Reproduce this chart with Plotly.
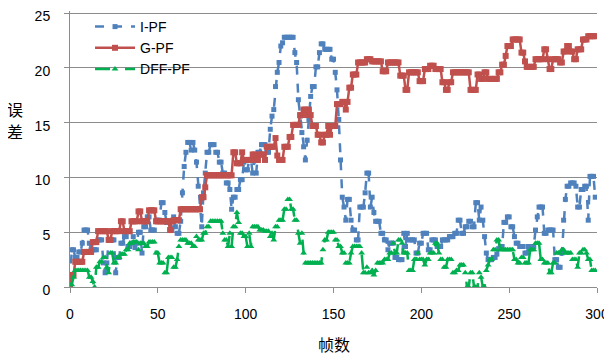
import plotly.graph_objects as go

frames = list(range(300))

i_pf = [
    0.5, 3.4, 3.4, 2.7, 2.7, 3.2, 3.2, 4.0, 5.2, 5.2,
    5.2, 4.0, 3.4, 3.4, 3.4, 3.4, 4.3, 4.3, 4.3, 2.2,
    1.3, 2.2, 4.3, 4.3, 4.3, 4.3, 1.3, 2.7, 2.7, 4.0,
    4.0, 4.6, 4.6, 3.7, 3.7, 4.0, 4.6, 3.6, 4.0, 5.0,
    5.0, 3.1, 5.5, 5.5, 6.4, 6.4, 5.2, 5.2, 5.2, 6.1,
    6.1, 6.1, 7.7, 7.7, 6.8, 5.9, 5.9, 5.2, 5.2, 6.4,
    5.5, 4.9, 4.9, 6.0, 8.6, 11.0, 12.3, 13.2, 13.2, 12.5,
    13.2, 12.5, 11.4, 9.2, 7.1, 5.5, 8.6, 10.4, 12.3, 12.3,
    13.0, 13.0, 13.0, 12.3, 12.3, 11.4, 11.4, 10.4, 10.4, 9.5,
    9.5, 8.9, 7.1, 8.2, 8.2, 8.9, 8.9, 9.8, 9.8, 11.4,
    10.7, 10.7, 11.6, 11.6, 10.4, 11.6, 10.4, 12.3, 12.3, 13.0,
    13.0, 13.0, 12.3, 12.3, 14.4, 15.6, 16.2, 18.3, 19.6, 20.5,
    22.0, 22.3, 22.8, 22.8, 22.8, 22.8, 22.8, 22.8, 21.4, 20.5,
    17.1, 15.6, 14.1, 12.8, 11.6, 13.4, 15.3, 17.4, 18.3, 18.3,
    20.1, 20.1, 21.4, 22.2, 22.2, 21.7, 21.7, 21.7, 21.7, 20.8,
    20.8, 19.6, 18.0, 15.3, 11.6, 8.2, 7.3, 6.1, 8.0, 8.0,
    6.1, 5.2, 5.2, 4.3, 4.3, 7.3, 7.3, 7.3, 8.6, 10.4,
    10.4, 7.3, 8.2, 6.8, 6.0, 6.0, 6.0, 4.9, 4.9, 4.3,
    4.3, 3.4, 4.0, 4.0, 4.0, 2.7, 2.7, 2.5, 2.5, 2.5,
    4.9, 3.7, 4.9, 4.3, 4.3, 4.3, 4.3, 3.1, 3.1, 4.0,
    4.0, 4.9, 4.9, 4.9, 3.4, 3.4, 4.3, 4.3, 4.3, 3.7,
    3.7, 3.7, 4.3, 4.3, 4.3, 4.3, 4.6, 4.6, 4.6, 4.9,
    4.9, 6.1, 6.1, 4.9, 4.9, 5.5, 5.5, 6.0, 6.0, 5.5,
    5.5, 7.7, 7.7, 6.1, 7.3, 6.1, 4.6, 3.1, 2.5, 2.5,
    2.5, 2.7, 2.7, 3.0, 3.5, 3.7, 3.7, 5.9, 5.9, 6.4,
    6.4, 5.5, 5.5, 4.6, 4.0, 4.0, 3.7, 3.7, 3.7, 3.1,
    3.1, 3.7, 3.7, 3.7, 3.7, 5.2, 6.4, 7.3, 7.3, 7.3,
    4.9, 4.9, 5.2, 5.2, 5.2, 5.2, 2.5, 2.5, 1.8, 1.8,
    3.1, 6.1, 8.0, 9.2, 9.2, 9.5, 9.5, 9.5, 9.2, 7.3,
    7.3, 8.9, 8.9, 9.2, 9.2, 6.1, 10.1, 10.1, 10.1, 8.2,
]

g_pf = [
    0.0, 1.1, 1.1, 2.3, 2.3, 2.3, 2.3, 2.3, 3.2, 3.2,
    3.2, 3.2, 3.2, 4.1, 4.1, 4.1, 5.1, 5.1, 5.1, 5.1,
    5.1, 5.1, 4.3, 4.3, 5.1, 5.1, 5.1, 5.1, 5.1, 6.0,
    6.0, 5.1, 5.1, 5.1, 5.1, 6.0, 6.0, 6.0, 6.0, 6.9,
    6.9, 6.0, 6.0, 6.0, 6.0, 7.0, 7.0, 7.0, 7.0, 6.0,
    6.0, 6.0, 6.0, 6.0, 6.0, 6.0, 6.0, 5.2, 6.0, 6.1,
    6.1, 6.1, 6.1, 7.1, 7.1, 7.1, 7.1, 7.1, 7.1, 7.1,
    7.1, 7.1, 7.1, 7.1, 7.1, 8.2, 8.2, 9.1, 10.2, 10.2,
    10.2, 10.2, 10.2, 10.2, 10.2, 10.2, 10.2, 10.2, 10.2, 10.2,
    10.2, 10.2, 10.2, 12.3, 12.3, 11.3, 11.3, 11.3, 12.3, 11.6,
    11.6, 11.6, 11.6, 11.6, 12.1, 12.1, 11.6, 11.6, 12.1, 12.1,
    12.1, 11.6, 12.8, 12.8, 12.8, 12.8, 12.8, 13.6, 12.0, 11.6,
    11.6, 11.6, 12.8, 12.8, 12.8, 13.7, 13.7, 14.8, 14.8, 14.8,
    14.8, 15.7, 15.7, 16.2, 16.2, 15.7, 16.2, 15.7, 14.7, 14.7,
    14.7, 13.9, 13.9, 13.2, 13.2, 13.9, 13.9, 14.7, 13.9, 14.7,
    14.7, 14.7, 16.7, 16.7, 16.7, 16.9, 16.9, 16.2, 16.9, 18.2,
    18.2, 19.4, 19.4, 19.4, 20.5, 20.5, 20.5, 20.5, 20.5, 20.8,
    20.8, 20.8, 20.6, 20.6, 20.6, 20.6, 20.6, 20.6, 19.7, 19.7,
    19.7, 20.5, 20.5, 20.5, 20.5, 20.5, 20.5, 20.5, 19.3, 19.3,
    19.3, 18.0, 18.0, 19.6, 19.6, 19.6, 19.6, 19.6, 19.6, 18.8,
    18.8, 18.8, 19.9, 19.9, 19.9, 20.2, 20.2, 20.2, 19.9, 19.9,
    19.9, 19.9, 18.7, 18.7, 18.0, 18.0, 18.7, 18.7, 19.6, 19.6,
    19.6, 19.6, 19.6, 19.6, 19.6, 19.6, 19.6, 19.6, 18.0, 18.0,
    18.0, 18.0, 19.4, 19.4, 19.0, 19.0, 19.6, 19.6, 19.0, 19.0,
    19.0, 19.0, 19.0, 19.0, 19.6, 19.6, 20.3, 20.3, 21.1, 22.0,
    22.0, 22.0, 22.6, 22.6, 22.6, 22.6, 22.6, 21.4, 21.4, 20.6,
    20.1, 20.1, 20.1, 20.1, 20.1, 20.8, 20.8, 20.8, 20.8, 20.8,
    21.7, 21.7, 20.8, 19.9, 19.9, 20.8, 20.8, 20.8, 20.8, 20.5,
    20.5, 21.5, 21.5, 22.0, 22.0, 21.5, 21.5, 20.8, 20.8, 21.7,
    21.7, 21.7, 22.6, 22.6, 22.6, 22.9, 22.9, 22.9, 22.9, 22.9,
]

dff_pf = [
    0.2, 0.2, 0.9, 1.5, 1.5, 1.5, 1.5, 1.5, 1.5, 1.5,
    1.5, 0.9, 0.9, 0.5, 0.0, 1.8, 1.8, 2.3, 2.3, 2.7,
    2.7, 1.8, 1.3, 3.1, 3.1, 2.2, 2.2, 2.7, 2.7, 3.0,
    3.0, 3.0, 3.4, 3.4, 4.0, 4.0, 4.1, 4.1, 4.1, 3.4,
    4.0, 4.0, 4.0, 3.7, 3.7, 4.1, 4.1, 4.1, 4.1, 3.1,
    3.1, 2.2, 2.2, 2.2, 1.3, 1.3, 2.7, 2.7, 2.7, 1.8,
    1.8, 2.5, 3.7, 4.3, 4.3, 4.3, 4.3, 4.0, 4.0, 4.0,
    3.7, 3.7, 4.6, 4.3, 4.3, 4.3, 4.9, 4.9, 5.5, 5.5,
    6.0, 6.0, 6.0, 6.0, 6.0, 6.0, 6.0, 4.9, 4.3, 4.3,
    3.7, 4.9, 3.7, 5.5, 5.5, 6.8, 5.9, 4.9, 4.9, 4.6,
    4.6, 3.7, 4.9, 3.7, 5.5, 5.5, 5.5, 5.5, 5.2, 5.2,
    5.2, 5.1, 5.1, 5.1, 4.6, 4.9, 4.3, 5.5, 5.5, 6.1,
    6.1, 6.1, 7.1, 7.1, 8.0, 8.0, 7.1, 7.1, 6.1, 6.1,
    4.9, 4.0, 4.9, 3.1, 2.2, 2.2, 2.2, 2.2, 2.2, 2.2,
    2.2, 2.2, 2.2, 2.2, 3.4, 4.3, 4.3, 5.0, 5.0, 5.0,
    5.0, 4.3, 4.3, 3.7, 3.7, 3.1, 3.1, 2.2, 2.2, 2.2,
    3.1, 3.7, 3.7, 3.7, 3.7, 3.7, 3.1, 1.3, 1.3, 1.8,
    1.3, 1.3, 1.5, 1.1, 1.5, 2.2, 2.2, 2.2, 2.2, 2.5,
    2.5, 2.5, 3.1, 3.1, 4.0, 3.1, 3.1, 4.3, 4.3, 4.0,
    3.1, 3.1, 3.1, 1.5, 1.5, 1.5, 2.5, 2.5, 3.1, 2.5,
    2.5, 2.5, 2.0, 2.5, 2.5, 3.1, 3.1, 3.1, 4.0, 4.0,
    3.1, 2.5, 2.5, 1.8, 1.8, 2.5, 2.5, 2.5, 1.3, 1.3,
    1.5, 1.5, 2.0, 2.0, 2.0, 1.3, 0.0, 0.0, 1.3, 1.3,
    0.0, 0.0, 0.0, 1.3, 0.9, 0.0, 0.0, 1.5, 2.0, 2.5,
    2.5, 3.4, 3.4, 4.3, 4.3, 3.4, 3.4, 3.4, 3.4, 3.4,
    3.4, 3.4, 3.4, 2.5, 2.5, 2.2, 2.2, 2.7, 2.7, 2.2,
    2.2, 2.2, 3.4, 3.4, 3.4, 4.0, 4.0, 4.0, 2.5, 2.5,
    2.2, 2.2, 2.2, 1.3, 1.3, 2.2, 2.2, 3.1, 3.1, 3.1,
    3.4, 3.4, 3.1, 3.1, 3.1, 3.1, 2.5, 2.5, 2.5, 1.8,
    3.1, 3.1, 3.4, 3.4, 3.1, 2.5, 2.5, 1.5, 1.5, 1.5,
]

x_ticks = [0, 50, 100, 150, 200, 250, 300]
y_ticks = [0, 5, 10, 15, 20, 25]

BLUE = "#4F81BD"
RED = "#C0504D"
GREEN = "#00B050"
GRID = "#8C8C8C"
FONT = "Liberation Sans"
CJK = "Noto Sans CJK SC"

fig = go.Figure()
fig.add_trace(go.Scatter(
    x=frames, y=i_pf, name="I-PF", mode="lines+markers",
    line=dict(color=BLUE, width=2.5, dash="dash"),
    marker=dict(symbol="square", size=5, color=BLUE),
))
fig.add_trace(go.Scatter(
    x=frames, y=g_pf, name="G-PF", mode="lines+markers",
    line=dict(color=RED, width=2.5),
    marker=dict(symbol="square", size=6, color=RED),
))
fig.add_trace(go.Scatter(
    x=frames, y=dff_pf, name="DFF-PF", mode="lines+markers",
    line=dict(color=GREEN, width=2.5, dash="longdash"),
    marker=dict(symbol="triangle-up", size=6, color=GREEN),
))

# page body has an 8px default margin; the figure size compensates for it
fig.update_layout(
    width=604, height=351,
    margin=dict(l=62, r=15, t=3, b=72, autoexpand=False),
    paper_bgcolor="white", plot_bgcolor="white",
    font=dict(family=FONT, size=14, color="#000000"),
    showlegend=True,
    legend=dict(
        x=0.038, y=1.0, xanchor="left", yanchor="top",
        bgcolor="rgba(0,0,0,0)", font=dict(family=FONT, size=14),
        tracegroupgap=0, itemwidth=40,
    ),
    xaxis=dict(
        range=[0, 300], tickvals=x_ticks, ticktext=[str(v) for v in x_ticks],
        showgrid=False, zeroline=False, automargin=False,
        showline=True, linecolor=GRID, linewidth=1,
        ticks="outside", ticklen=5, tickcolor=GRID,
        ticklabelstandoff=9, ticklabeloverflow="allow",
        tickfont=dict(family=FONT, size=14),
    ),
    yaxis=dict(
        range=[0, 25.2], tickvals=y_ticks, ticktext=[str(v) for v in y_ticks],
        showgrid=True, gridcolor=GRID, gridwidth=1, zeroline=False,
        automargin=False,
        showline=True, linecolor=GRID, linewidth=1,
        ticks="outside", ticklen=5, tickcolor=GRID,
        ticklabelstandoff=11, ticklabelshift=3, ticklabeloverflow="allow",
        tickfont=dict(family=FONT, size=14),
    ),
    annotations=[
        dict(text="误", xref="paper", yref="paper", x=-0.104, y=0.645,
             xanchor="center", yanchor="middle", showarrow=False,
             font=dict(family=CJK, size=16)),
        dict(text="差", xref="paper", yref="paper", x=-0.104, y=0.565,
             xanchor="center", yanchor="middle", showarrow=False,
             font=dict(family=CJK, size=16)),
        dict(text="帧数", xref="paper", yref="paper", x=0.5, y=-0.208,
             xanchor="center", yanchor="middle", showarrow=False,
             font=dict(family=CJK, size=16)),
    ],
)

fig.write_html("out.html")
